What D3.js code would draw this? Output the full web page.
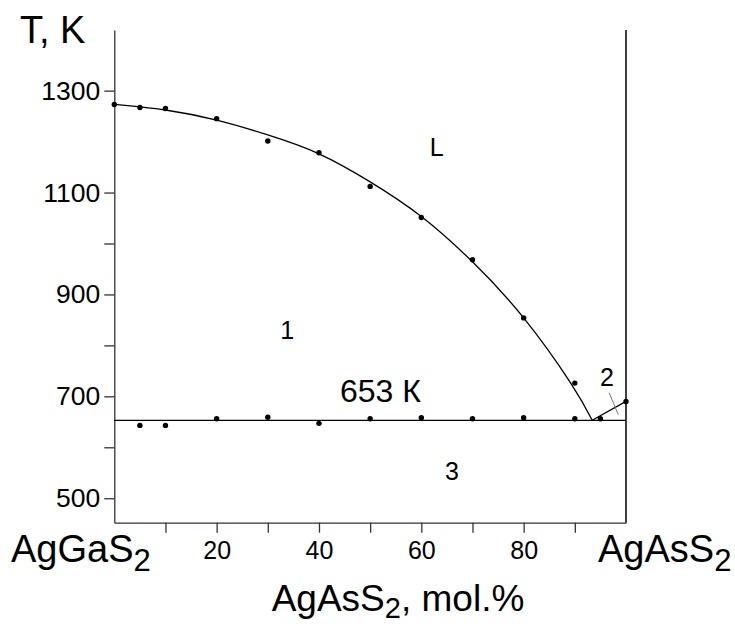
<!DOCTYPE html>
<html>
<head>
<meta charset="utf-8">
<script src="https://cdn.jsdelivr.net/npm/d3@7"></script>
<style>
  body { margin: 0; background: #fff; }
  text { font-family: "Liberation Sans", Arial, sans-serif; fill: #000; }
</style>
</head>
<body>
<svg id="chart" width="735" height="624"></svg>
<script>
// liquidus measurements (mol.% AgAsS2, T in K)
const liqX = [0, 5, 10, 20, 30, 40, 50, 60, 70, 80, 90, 100];
const liqT = [1273, 1267, 1265, 1245, 1201, 1178, 1112, 1051, 968, 854, 726, 690];
// eutectic arrests
const eutX = [5, 10, 20, 30, 40, 50, 60, 70, 80, 90, 95];
const eutT = [643, 643, 656, 659, 647, 656, 658, 656, 658, 656, 656];
// fitted liquidus as drawn
const fitX = [0, 10, 20, 30, 40, 50, 60, 70, 80, 89.2, 93.4];
const fitT = [1273, 1262, 1242, 1213, 1176, 1121, 1053, 964, 854, 726, 653];
// eutectic point and AgAsS2 melting point
const eutecticX = 93.4;
const eutecticT = 653;
const meltX = 100;
const meltT = 690;

const xTicks = [10, 20, 30, 40, 50, 60, 70, 80, 90];
const xLabels = [20, 40, 60, 80];
const yTicks = [500, 600, 700, 800, 900, 1000, 1100, 1300];
const yLabels = [500, 700, 900, 1100, 1300];

const regionText = ["L", "1", "2", "3"];
const regionX = [63, 33.8, 96.3, 66];
const regionT = [1189, 830, 738, 552];

const svg = d3.select("#chart");

const x = d3.scaleLinear().domain([0, 100]).range([114.3, 626]);
const y = d3.scaleLinear().domain([452, 1419]).range([522.7, 30]);

// axes
const yAxis = d3.axisLeft(y)
  .tickValues(yTicks)
  .tickSize(10)
  .tickSizeOuter(0)
  .tickPadding(4)
  .tickFormat((d) => (yLabels.includes(d) ? d : ""));

const xAxis = d3.axisBottom(x)
  .tickValues(xTicks)
  .tickSize(10)
  .tickSizeOuter(0)
  .tickPadding(9)
  .tickFormat((d) => (xLabels.includes(d) ? d : ""));

const gy = svg.append("g")
  .attr("transform", `translate(${x(0)},0)`)
  .call(yAxis);
const gx = svg.append("g")
  .attr("transform", `translate(0,${y(452)})`)
  .call(xAxis);

[gx, gy].forEach((g) => {
  g.selectAll("path, line").attr("stroke", "#333").attr("stroke-width", 1.3);
  g.selectAll("text")
    .attr("font-family", '"Liberation Sans", Arial, sans-serif')
    .attr("fill", "#000");
});
gy.selectAll("text").attr("font-size", 26.5);
gx.selectAll("text").attr("font-size", 25);

// right border = pure AgAsS2
svg.append("line")
  .attr("x1", x(100)).attr("x2", x(100))
  .attr("y1", y(1419)).attr("y2", y(452))
  .attr("stroke", "#000")
  .attr("stroke-width", 1.5);

// eutectic horizontal
svg.append("line")
  .attr("x1", x(0)).attr("x2", x(100))
  .attr("y1", y(eutecticT)).attr("y2", y(eutecticT))
  .attr("stroke", "#000")
  .attr("stroke-width", 1.3);

// liquidus curve
const fit = fitX.map((d, i) => [d, fitT[i]]);
svg.append("path")
  .datum(fit)
  .attr("fill", "none")
  .attr("stroke", "#000")
  .attr("stroke-width", 1.3)
  .attr("d", d3.line().x((d) => x(d[0])).y((d) => y(d[1])).curve(d3.curveNatural));

// short branch to AgAsS2 side
svg.append("line")
  .attr("x1", x(eutecticX)).attr("y1", y(eutecticT))
  .attr("x2", x(meltX)).attr("y2", y(meltT))
  .attr("stroke", "#000")
  .attr("stroke-width", 1.3);

// leader for label 2
svg.append("line")
  .attr("x1", x(96.7)).attr("y1", y(707))
  .attr("x2", x(98.5)).attr("y2", y(664))
  .attr("stroke", "#777")
  .attr("stroke-width", 1);

// points
const pts = liqX.map((d, i) => [d, liqT[i]])
  .concat(eutX.map((d, i) => [d, eutT[i]]));
svg.append("g")
  .selectAll("circle")
  .data(pts)
  .join("circle")
  .attr("cx", (d) => x(d[0]))
  .attr("cy", (d) => y(d[1]))
  .attr("r", 2.7)
  .attr("fill", "#000");

// region labels
svg.append("g")
  .selectAll("text")
  .data(regionText)
  .join("text")
  .attr("x", (d, i) => x(regionX[i]))
  .attr("y", (d, i) => y(regionT[i]))
  .attr("dy", "0.35em")
  .attr("text-anchor", "middle")
  .attr("font-size", 25)
  .text((d) => d);

svg.append("text")
  .attr("x", x(52))
  .attr("y", y(711))
  .attr("dy", "0.35em")
  .attr("text-anchor", "middle")
  .attr("font-size", 32)
  .text(eutecticT + " К");

// axis titles
svg.append("text")
  .attr("x", 20).attr("y", 43)
  .attr("font-size", 38)
  .text("T, K");

const ends = svg.append("g").attr("font-size", 38);
const left = ends.append("text").attr("x", 11).attr("y", 562);
left.append("tspan").text("AgGaS");
left.append("tspan").attr("dy", 9).attr("font-size", 31).text("2");

const right = ends.append("text").attr("x", 598).attr("y", 562);
right.append("tspan").text("AgAsS");
right.append("tspan").attr("dy", 9).attr("font-size", 31).text("2");

const title = svg.append("text")
  .attr("x", 398).attr("y", 611)
  .attr("text-anchor", "middle")
  .attr("font-size", 37);
title.append("tspan").text("AgAsS");
title.append("tspan").attr("dy", 7).attr("font-size", 29).text("2");
title.append("tspan").attr("dy", -7).text(", mol.%");
</script>
</body>
</html>
